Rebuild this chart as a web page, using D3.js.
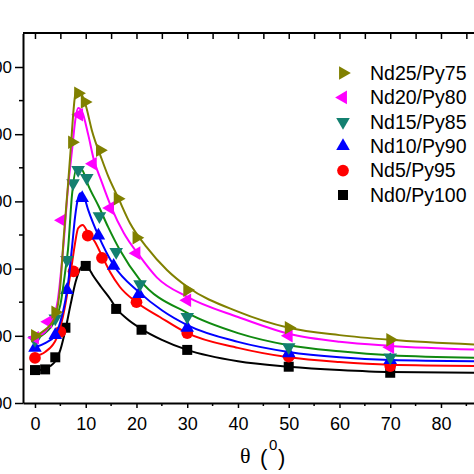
<!DOCTYPE html>
<html><head><meta charset="utf-8">
<script src="https://cdn.jsdelivr.net/npm/d3@7"></script>
<style>html,body{margin:0;padding:0;background:#fff;overflow:hidden}</style>
</head><body><svg id="c" width="474" height="474"></svg>
<script>
// ---- data ----
const xTicks = [0,10,20,30,40,50,60,70,80];
const xMinorTicks = [5,15,25,35,45,55,65,75,85];
const topTicks = [0,5,10,15,20,25,30,35,40,45,50,55,60,65,70,75,80,85];
const yTicks = [100,200,300,400,500,600];
const yMinorTicks = [150,250,350,450,550];
const seriesNames = ["Nd25/Py75","Nd20/Py80","Nd15/Py85","Nd10/Py90","Nd5/Py95","Nd0/Py100"];

const nd25Theta = [0,4,7.3,8.5,9.8,12.8,16.3,20,30,50,70];
const nd25Val   = [200,235,488,561,548,476,404,346,268,212,194];
const nd25FitTheta = [0,2,4,5,5.7,6.5,7.1,7.6,8.1,8.9,10,11.2,13.2,14.4,16.3,18.7,22,26,30,40,50,60,70,90];
const nd25FitVal   = [200,209,229,276,350,424,484,536,566,563,543,506,462,438,407,368,332,298,273,236,212,201,194,186];

const nd20Theta = [0,2.6,5.3,8.7,11.4,14.8,20,30,50,70];
const nd20Val   = [197,221,372,529,456,390,323,253,200,183];
const nd20FitTheta = [0,2,3.3,4.5,5.7,6.5,7.3,8,8.5,9.3,10.5,11.6,13,15,17.5,20.5,24,30,40,50,60,70,90];
const nd20FitVal   = [198,206,221,253,343,420,476,524,539,533,499,462,432,392,353,320,287,258,228,203,191,185,179];

const nd15Theta = [0,4,6.3,7.5,8.5,10.2,12.7,16,20.7,30,50,70];
const nd15Val   = [194,226,313,427,447,435,378,325,277,228,183,168];
const nd15FitTheta = [0,2,4,5,6,6.5,7.3,8.3,9.3,10.5,12.6,14.4,16.7,20.7,30,40,50,60,70,90];
const nd15FitVal   = [195,204,224,246,298,328,410,451,447,424,392,362,328,283,234,204,186,177,171,167];

const nd10Theta = [0,4,6.3,9.3,12.5,15.5,20.5,30,50,70];
const nd10Val   = [182,201,268,405,349,304,262,212,174,164];
const nd10FitTheta = [0,2,4,5,6,6.6,7.3,7.9,8.5,9,9.6,10.5,12.5,15.5,20.5,25,30,40,50,60,70,90];
const nd10FitVal   = [183,189,201,221,253,283,332,377,405,412,408,387,349,305,265,238,216,191,176,168,164,162];

const nd5Theta = [0,5,7.6,10.4,13.2,20,30,50,70];
const nd5Val   = [167,206,296,349,316,250,204,169,155];
const nd5FitTheta = [0,2,4.3,5.9,6.7,7.3,7.9,8.5,9.4,10.4,11.8,13.2,14.8,16.7,20,24.6,30,40,50,60,70,90];
const nd5FitVal   = [170,176,197,243,279,308,338,360,365,354,340,319,295,273,250,228,204,182,168,161,157,155];

const nd0Theta = [0,2,4,6,10,16,21,30,50,70];
const nd0Val   = [149,150,168,212,304,240,209,179,154,145];
const nd0FitTheta = [0,1,2,3,4,5,6,7,8,9,9.7,10.5,11.5,13,15,16,18,21,25,30,40,50,60,70,90];
const nd0FitVal   = [149,149,151,155,162,179,209,246,280,301,305,301,289,273,253,241,226,210,194,179,162,154,149,146,145];

// ---- styles ----
const lineColors = ["#808000","#ff00ff","#108a10","#0000ff","#ff0000","#000000"];
const markColors = ["#808000","#ff00ff","#138070","#0000ff","#ff0000","#000000"];
const shapes = ["right","left","down","up","circle","square"];

const series = [
  {pt:nd25Theta, pv:nd25Val, ft:nd25FitTheta, fv:nd25FitVal},
  {pt:nd20Theta, pv:nd20Val, ft:nd20FitTheta, fv:nd20FitVal},
  {pt:nd15Theta, pv:nd15Val, ft:nd15FitTheta, fv:nd15FitVal},
  {pt:nd10Theta, pv:nd10Val, ft:nd10FitTheta, fv:nd10FitVal},
  {pt:nd5Theta,  pv:nd5Val,  ft:nd5FitTheta,  fv:nd5FitVal},
  {pt:nd0Theta,  pv:nd0Val,  ft:nd0FitTheta,  fv:nd0FitVal}
];

const svg = d3.select("#c");
const x = d3.scaleLinear().domain([-2.36, 90]).range([23, 23 + 92.36*5.075]);
const y = d3.scaleLinear().domain([100, 650]).range([403, 33.4]);

function sym(shape){
  if (shape==="circle") return {p:d3.symbol(d3.symbolCircle, 108)(), r:0};
  if (shape==="square") return {p:d3.symbol(d3.symbolSquare, 100)(), r:0};
  const rot = {up:0, down:180, right:90, left:-90}[shape];
  return {p:d3.symbol(d3.symbolTriangle, 80)(), r:rot};
}

svg.append("defs").append("clipPath").attr("id","clip")
  .append("rect").attr("x",23).attr("y",33).attr("width",460).attr("height",370);

const plot = svg.append("g").attr("clip-path","url(#clip)");
const line = d3.line().x(d=>x(d[0])).y(d=>y(d[1])).curve(d3.curveMonotoneX);

for (let i = series.length-1; i >= 0; i--) {
  const s = series[i];
  const fit = s.ft.map((t,k)=>[t, s.fv[k]]);
  plot.append("path").attr("d", line(fit)).attr("fill","none")
    .attr("stroke", lineColors[i]).attr("stroke-width", 2);
  const m = sym(shapes[i]);
  plot.selectAll(null).data(s.pt.map((t,k)=>[t, s.pv[k]])).enter().append("path")
    .attr("d", m.p)
    .attr("transform", d=>`translate(${x(d[0])},${y(d[1])}) rotate(${m.r})`)
    .attr("fill", markColors[i]);
}

// ---- axes ----
const font = "'Liberation Sans', Arial, sans-serif";
const gb = svg.append("g").attr("transform","translate(0,403)");
gb.call(d3.axisBottom(x).tickValues(xTicks).tickSize(5).tickSizeOuter(0).tickPadding(9).tickFormat(d3.format("d")));
gb.append("g").selectAll("line").data(xMinorTicks).enter().append("line")
  .attr("x1",d=>x(d)).attr("x2",d=>x(d)).attr("y1",0).attr("y2",3).attr("stroke","#000").attr("stroke-width",1.5);
gb.select(".domain").attr("stroke-width",2);
gb.selectAll(".tick line").attr("stroke-width",1.5);
gb.selectAll("text").attr("font-family",font).attr("font-size",18).attr("fill","#000");

const gt = svg.append("g").attr("transform","translate(0,33)");
gt.call(d3.axisBottom(x).tickValues(topTicks).tickSize(6).tickSizeOuter(0).tickFormat(""));
gt.select(".domain").remove();
gt.append("line").attr("x1",x.range()[0]).attr("x2",x.range()[1]).attr("y1",0).attr("y2",0).attr("stroke","#000").attr("stroke-width",2);
gt.selectAll(".tick line").attr("stroke-width",1.5);

const gl = svg.append("g").attr("transform","translate(23,0)");
gl.call(d3.axisLeft(y).tickValues(yTicks).tickSize(8).tickSizeOuter(0).tickPadding(3).tickFormat(d3.format("d")));
gl.select(".domain").attr("stroke-width",2);
gl.selectAll(".tick line").attr("stroke-width",1.5);
gl.selectAll("text").attr("font-family",font).attr("font-size",17).attr("fill","#000");
gl.append("g").selectAll("line").data(yMinorTicks).enter().append("line")
  .attr("x1",0).attr("x2",-4).attr("y1",d=>y(d)).attr("y2",d=>y(d)).attr("stroke","#000").attr("stroke-width",1.5);

// x-axis title
const title = svg.append("g");
title.append("text").attr("x",240).attr("y",463).attr("font-family","'Liberation Serif','Times New Roman',serif").attr("font-size",22).text("θ");
title.append("text").attr("x",260).attr("y",465).attr("font-family",font).attr("font-size",22).text("(");
title.append("text").attr("x",269).attr("y",450).attr("font-family",font).attr("font-size",15).text("0");
title.append("text").attr("x",278).attr("y",465).attr("font-family",font).attr("font-size",22).text(")");

// legend
const legY0 = 73, legStep = 24.4;
seriesNames.forEach((name,i)=>{
  const g = svg.append("g").attr("transform",`translate(343,${legY0 + i*legStep})`);
  const m = sym(shapes[i]);
  g.append("path").attr("d", m.p).attr("transform",`rotate(${m.r})`).attr("fill", markColors[i]);
  g.append("text").attr("x",27).attr("y",0).attr("dy","0.35em")
    .attr("font-family",font).attr("font-size",19.5).attr("fill","#000").text(name);
});
</script>
</body></html>
